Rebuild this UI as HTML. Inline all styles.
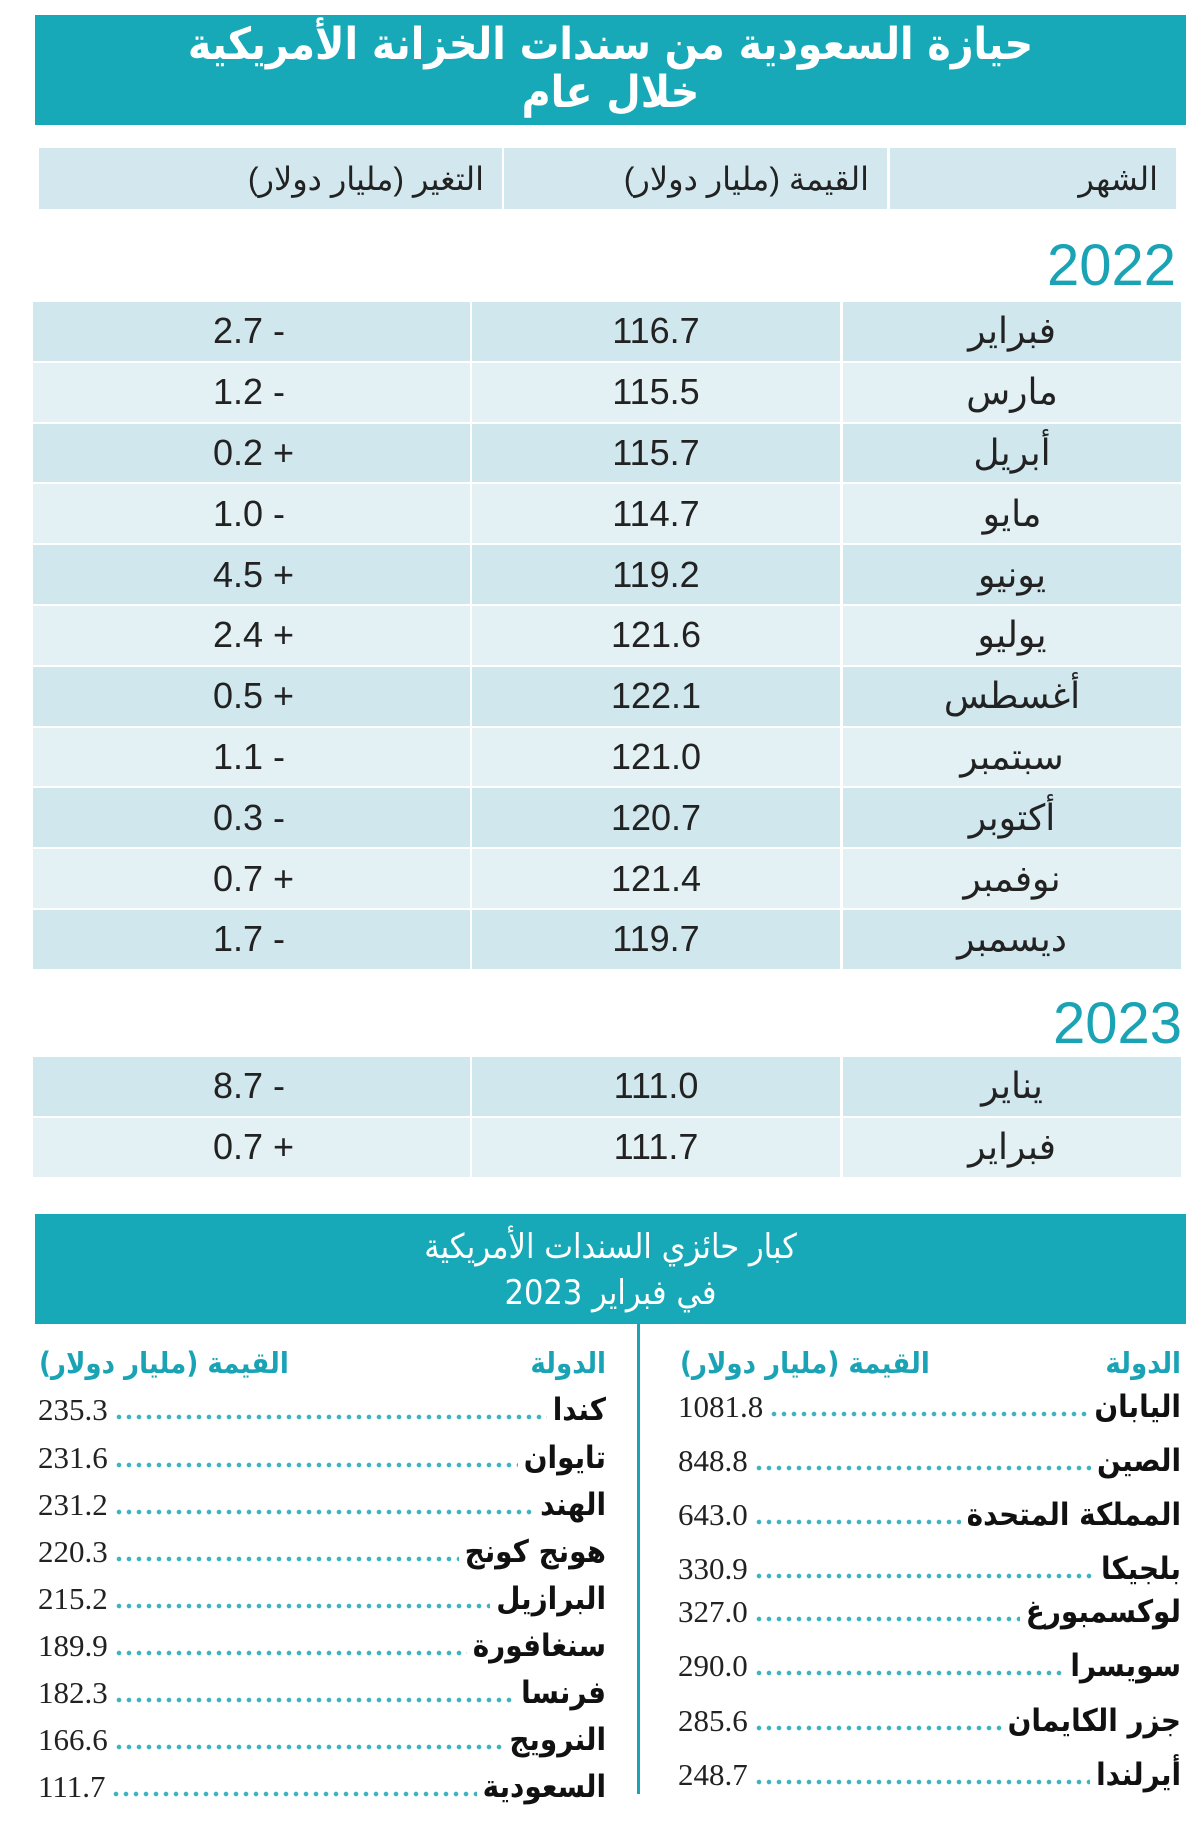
<!DOCTYPE html>
<html><head><meta charset="utf-8">
<style>
body{margin:0;width:1200px;height:1824px;background:#fff;position:relative;overflow:hidden;font-family:"Liberation Sans Narrow","Liberation Sans","DejaVu Sans",sans-serif;}
.abs{position:absolute;}
.band{background:#17a9b8;color:#fff;text-align:center;}
.cell{position:absolute;display:flex;align-items:center;justify-content:center;font-size:36px;color:#222;}
.year{color:#1aa3b5;font-size:58px;text-align:right;}
.h2{position:absolute;color:#1aa3b5;font-size:29px;font-weight:bold;font-family:"DejaVu Sans Condensed","DejaVu Sans",sans-serif;}
.ent{position:absolute;height:44px;display:flex;align-items:center;}
.ent .num{font-family:"Liberation Serif",serif;font-size:31px;color:#222;}
.ent .dots{flex:1;height:6px;margin:14px 6px 0 6px;background:radial-gradient(circle,#3db3c2 2px,transparent 2.6px) 0 0/10px 6px repeat-x;}
.ent .nm{font-family:"DejaVu Sans Condensed","DejaVu Sans",sans-serif;font-weight:bold;font-size:31px;color:#111;direction:rtl;}
</style></head><body>
<div class="abs band" style="left:35px;top:15px;width:1151px;height:110px;font-size:44px;line-height:48px;padding-top:6px;box-sizing:border-box;direction:rtl;font-weight:bold;font-family:'DejaVu Sans Condensed','DejaVu Sans',sans-serif;">حيازة السعودية من سندات الخزانة الأمريكية<br>خلال عام</div>

<div class="cell" style="left:39px;top:148px;width:463px;height:61px;background:#d2e8ee;padding-right:18px;box-sizing:border-box;direction:rtl;font-size:32px;justify-content:flex-start;">التغير (مليار دولار)</div>
<div class="cell" style="left:504px;top:148px;width:383px;height:61px;background:#d2e8ee;direction:rtl;font-size:32px;justify-content:flex-start;padding-right:18px;box-sizing:border-box;">القيمة (مليار دولار)</div>
<div class="cell" style="left:890px;top:148px;width:286px;height:61px;background:#d2e8ee;direction:rtl;font-size:32px;justify-content:flex-start;padding-right:18px;box-sizing:border-box;">الشهر</div>

<div class="abs year" style="left:900px;top:232px;width:276px;">2022</div>
<div class="abs year" style="left:900px;top:990px;width:282px;">2023</div>
<div id="t1"></div><div id="t2"></div>

<div class="abs band" style="left:35px;top:1214px;width:1151px;height:110px;font-size:34px;line-height:46px;padding-top:10px;box-sizing:border-box;direction:rtl;font-family:'DejaVu Sans Condensed','DejaVu Sans',sans-serif;">كبار حائزي السندات الأمريكية<br>في فبراير 2023</div>
<div class="abs" style="left:637px;top:1324px;width:3px;height:470px;background:#1aa3b5;"></div>
<div class="h2" style="right:594px;top:1346px;">الدولة</div>
<div class="h2" style="left:39px;top:1346px;direction:rtl;">القيمة (مليار دولار)</div>
<div class="h2" style="right:19px;top:1346px;">الدولة</div>
<div class="h2" style="left:680px;top:1346px;direction:rtl;">القيمة (مليار دولار)</div>
<div id="lists"></div>

<script>
const months2022=["فبراير","مارس","أبريل","مايو","يونيو","يوليو","أغسطس","سبتمبر","أكتوبر","نوفمبر","ديسمبر"];
const values2022=[116.7,115.5,115.7,114.7,119.2,121.6,122.1,121.0,120.7,121.4,119.7];
const changes2022=["- 2.7","- 1.2","+ 0.2","- 1.0","+ 4.5","+ 2.4","+ 0.5","- 1.1","- 0.3","+ 0.7","- 1.7"];
const months2023=["يناير","فبراير"];
const values2023=[111.0,111.7];
const changes2023=["- 8.7","+ 0.7"];
const rightCountries=["اليابان","الصين","المملكة المتحدة","بلجيكا","لوكسمبورغ","سويسرا","جزر الكايمان","أيرلندا"];
const rightValues=[1081.8,848.8,643.0,330.9,327.0,290.0,285.6,248.7];
const leftCountries=["كندا","تايوان","الهند","هونج كونج","البرازيل","سنغافورة","فرنسا","النرويج","السعودية"];
const leftValues=[235.3,231.6,231.2,220.3,215.2,189.9,182.3,166.6,111.7];

function table(host,top,months,vals,chg,prefix){
  const h=document.getElementById(host);
  months.forEach((m,i)=>{
    const y=top+i*60.8, bg=i%2?'#e3f1f5':'#d0e7ee';
    const cols=[[33,437,chg[i].split(' ').reverse().join(' '),'change'],[472,368,vals[i].toFixed(1),'value'],[843,338,m,'month']];
    cols.forEach(c=>{
      const d=document.createElement('div');
      d.className='cell';
      
      
      d.style.cssText=`left:${c[0]}px;top:${y}px;width:${c[1]}px;height:58.8px;background:${bg};`+(c[3]=='month'?'direction:rtl;':'')+(c[3]=='change'?'justify-content:flex-start;padding-left:180px;box-sizing:border-box;':'');
      d.textContent=c[2];
      h.appendChild(d);
    });
  });
}
table('t1',302,months2022,values2022,changes2022,'row2022');
table('t2',1057,months2023,values2023,changes2023,'row2023');

const L=document.getElementById('lists');
function list(names,vals,left,width,ys,prefix){
  names.forEach((n,i)=>{
    const e=document.createElement('div');
    e.className='ent';
    
    
    e.style.cssText=`left:${left}px;width:${width}px;top:${ys[i]-24}px;`;
    e.innerHTML=`<span class="num">${vals[i].toFixed(1)}</span><span class="dots"></span><span class="nm">${n}</span>`;
    L.appendChild(e);
  });
}
list(leftCountries,leftValues,38,568,[1412,1460,1507,1554,1601,1648,1695,1742,1789],'left');
list(rightCountries,rightValues,678,503,[1409,1463,1517,1571,1614,1668,1723,1777],'right');
</script>
</body></html>
